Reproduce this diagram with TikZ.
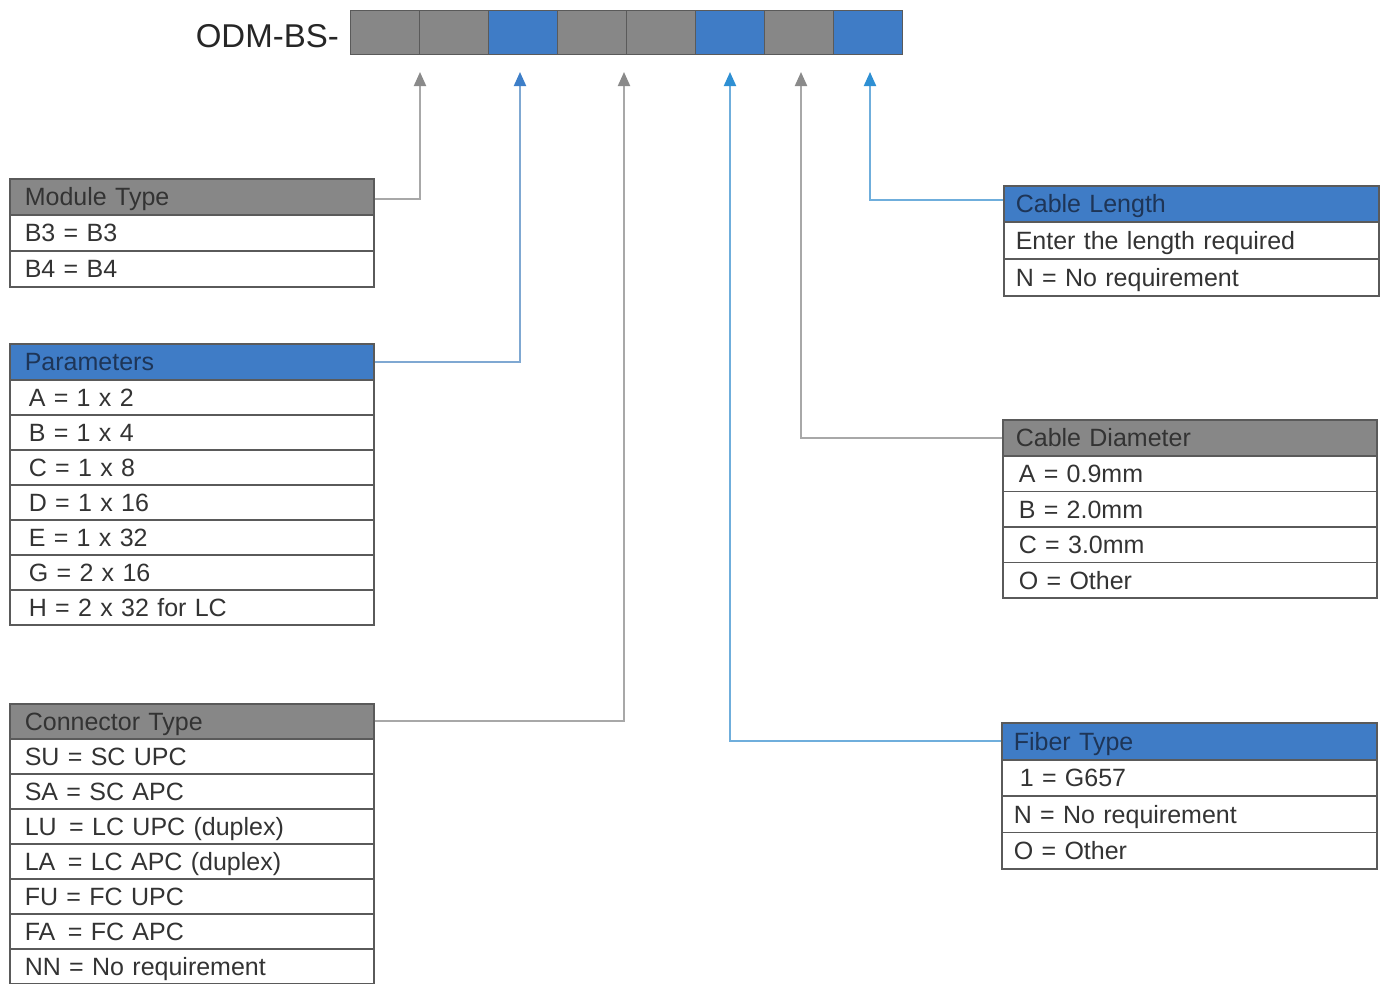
\documentclass[tikz,border=0pt]{standalone}
\usepackage{fontspec}
\setmainfont{Liberation Sans}
\usetikzlibrary{arrows.meta}
\definecolor{hgray}{HTML}{878787}
\definecolor{hblue}{HTML}{3F7CC6}
\definecolor{bord}{HTML}{5A5A5A}
\definecolor{txt}{HTML}{333333}
\definecolor{hbtxt}{HTML}{1E3557}
\definecolor{lgray}{HTML}{A8A8A8}
\definecolor{agray}{HTML}{8A8A8A}
\definecolor{lblue}{HTML}{7FA8D2}
\definecolor{ablue}{HTML}{3D7EC8}
\definecolor{lcyan}{HTML}{6FAEDC}
\definecolor{acyan}{HTML}{2E8FD3}
\tikzset{
  cell/.style={draw=bord, line width=1.6pt, anchor=north west, inner ysep=0pt,
    inner xsep=#1, align=left, text height=21pt, text depth=3pt,
    font=\fontsize{25}{28}\selectfont, text=txt},
  cell/.default=15pt,
  ghead/.style={cell=#1, fill=hgray, text=txt},
  ghead/.default=15pt,
  bhead/.style={cell=#1, fill=hblue, text=hbtxt},
  bhead/.default=15pt,
  slot/.style={draw=bord, line width=1.2pt, minimum width=69pt, minimum height=44pt, anchor=north west, inner sep=0pt},
  gline/.style={draw=lgray, line width=2pt, -{Triangle[width=12pt,length=14pt,fill=agray,color=agray]}},
  bline/.style={draw=lblue, line width=2pt, -{Triangle[width=12pt,length=14pt,fill=ablue,color=ablue]}},
  cline/.style={draw=lcyan, line width=2pt, -{Triangle[width=12pt,length=14pt,fill=acyan,color=acyan]}},
}
\begin{document}
\begin{tikzpicture}[x=1pt,y=-1pt]
\useasboundingbox (0,0) rectangle (1384,983);
% code bar
\node[anchor=east, font=\fontsize{33}{36}\selectfont, text=black!85, inner sep=0pt] (code) at (339,36) {ODM-BS-};
\node[slot, fill=hgray] (s1) at (350,10) {};
\node[slot, fill=hgray] (s2) at (419,10) {};
\node[slot, fill=hblue] (s3) at (488,10) {};
\node[slot, fill=hgray] (s4) at (557,10) {};
\node[slot, fill=hgray] (s5) at (626,10) {};
\node[slot, fill=hblue] (s6) at (695,10) {};
\node[slot, fill=hgray] (s7) at (764,10) {};
\node[slot, fill=hblue] (s8) at (833,10) {};
% arrow tips
\coordinate (t1) at (420,72);
\coordinate (t2) at (520,72);
\coordinate (t3) at (624,72);
\coordinate (t4) at (730,72);
\coordinate (t5) at (801,72);
\coordinate (t6) at (870,72);
% Module Type
\node[ghead, text width=334pt, minimum height=36pt] (mh) at (9,178) {Module Type};
\node[cell, text width=334pt, minimum height=36pt] (m1) at (9,214) {B3 = B3};
\node[cell, text width=334pt, minimum height=36pt] (m2) at (9,250) {B4 = B4};
% Parameters
\node[bhead, text width=334pt, minimum height=36pt] (ph) at (9,343) {Parameters};
\node[cell=19pt, text width=326pt, minimum height=35pt] (p1) at (9,379) {A = 1 x 2};
\node[cell=19pt, text width=326pt, minimum height=35pt] (p2) at (9,414) {B = 1 x 4};
\node[cell=19pt, text width=326pt, minimum height=35pt] (p3) at (9,449) {C = 1 x 8};
\node[cell=19pt, text width=326pt, minimum height=35pt] (p4) at (9,484) {D = 1 x 16};
\node[cell=19pt, text width=326pt, minimum height=35pt] (p5) at (9,519) {E = 1 x 32};
\node[cell=19pt, text width=326pt, minimum height=35pt] (p6) at (9,554) {G = 2 x 16};
\node[cell=19pt, text width=326pt, minimum height=35pt] (p7) at (9,589) {H = 2 x 32 for LC};
% Connector Type
\node[ghead, text width=334pt, minimum height=35pt] (ch) at (9,703) {Connector Type};
\node[cell, text width=334pt, minimum height=35pt] (c1) at (9,738) {SU = SC UPC};
\node[cell, text width=334pt, minimum height=35pt] (c2) at (9,773) {SA = SC APC};
\node[cell, text width=334pt, minimum height=35pt] (c3) at (9,808) {LU \,= LC UPC (duplex)};
\node[cell, text width=334pt, minimum height=35pt] (c4) at (9,843) {LA \,= LC APC (duplex)};
\node[cell, text width=334pt, minimum height=35pt] (c5) at (9,878) {FU = FC UPC};
\node[cell, text width=334pt, minimum height=35pt] (c6) at (9,913) {FA \,= FC APC};
\node[cell, text width=334pt, minimum height=35pt] (c7) at (9,948) {NN = No requirement};
% Cable Length
\node[bhead=12pt, text width=351pt, minimum height=36pt] (lh) at (1003,185) {Cable Length};
\node[cell=12pt, text width=351pt, minimum height=37pt] (l1) at (1003,221) {Enter the length required};
\node[cell=12pt, text width=351pt, minimum height=37pt] (l2) at (1003,258) {N = No requirement};
% Cable Diameter
\node[ghead=13pt, text width=348pt, minimum height=36pt] (dh) at (1002,419) {Cable Diameter};
\node[cell=16pt, text width=342pt, minimum height=35.5pt] (d1) at (1002,455) {A = 0.9mm};
\node[cell=16pt, text width=342pt, minimum height=35.5pt] (d2) at (1002,490.5) {B = 2.0mm};
\node[cell=16pt, text width=342pt, minimum height=35.5pt] (d3) at (1002,526) {C = 3.0mm};
\node[cell=16pt, text width=342pt, minimum height=35.5pt] (d4) at (1002,561.5) {O = Other};
% Fiber Type
\node[bhead=12pt, text width=351pt, minimum height=37pt] (fh) at (1001,722) {Fiber Type};
\node[cell=18pt, text width=339pt, minimum height=36.3pt] (f1) at (1001,759) {1 = G657};
\node[cell=12pt, text width=351pt, minimum height=36.3pt] (f2) at (1001,795.3) {N = No requirement};
\node[cell=12pt, text width=351pt, minimum height=36.3pt] (f3) at (1001,831.6) {O = Other};
% connectors
\draw[gline] ([yshift=-2pt]mh.east) -| (t1);
\draw[bline] (ph.east) -| (t2);
\draw[gline] (ch.east) -| (t3);
\draw[cline] (fh.west) -| (t4);
\draw[gline] (dh.west) -| (t5);
\draw[cline] ([yshift=4pt]lh.west) -| (t6);
\end{tikzpicture}
\end{document}
